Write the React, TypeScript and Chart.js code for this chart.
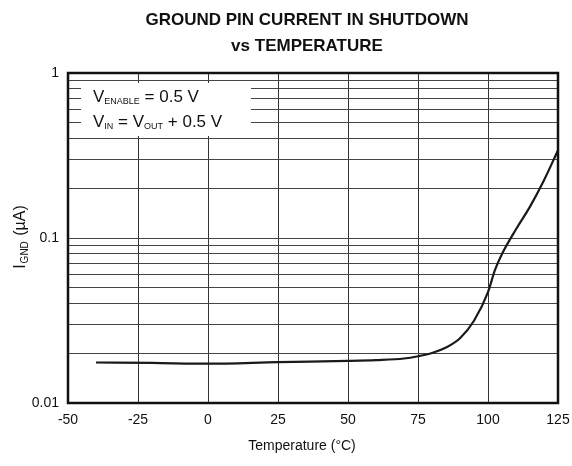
import React, { useEffect, useRef } from "react";
import { Chart, registerables } from "chart.js";

Chart.register(...registerables);

const temperatures = [-40, -20, 0, 25, 50, 60, 70, 75, 80, 85, 90, 95, 100, 102.5, 105, 110, 115, 120, 125];
const groundCurrent = [0.0176, 0.0175, 0.0173, 0.0177, 0.018, 0.0182, 0.0186, 0.0192, 0.0201, 0.0217, 0.0247, 0.0315, 0.047, 0.064, 0.08, 0.113, 0.155, 0.224, 0.34];
const xTicks = [-50, -25, 0, 25, 50, 75, 100, 125];
const yMajorTicks = [0.01, 0.1, 1];
const yMajorLabels = ["0.01", "0.1", "1"];
const titleLines = ["GROUND PIN CURRENT IN SHUTDOWN", "vs TEMPERATURE"];

const FONT = "'Liberation Sans', Arial, sans-serif";

const textPlugin = {
  id: "customText",
  afterDatasetsDraw(chart: any) {
    const ctx = chart.ctx;
    const area = chart.chartArea;
    ctx.save();
    // annotation box
    ctx.fillStyle = "#fff";
    ctx.fillRect(81, 83, 170, 53);
    ctx.fillStyle = "#111";
    ctx.textBaseline = "alphabetic";
    ctx.textAlign = "left";
    const drawSub = (parts: [string, boolean][], x: number, y: number) => {
      let cx = x;
      for (const [t, sub] of parts) {
        ctx.font = sub ? `9px ${FONT}` : `17px ${FONT}`;
        ctx.fillText(t, cx, sub ? y + 2 : y);
        cx += ctx.measureText(t).width;
      }
    };
    drawSub([["V", false], ["ENABLE", true], [" = 0.5 V", false]], 93, 102);
    drawSub([["V", false], ["IN", true], [" = V", false], ["OUT", true], [" + 0.5 V", false]], 93, 127);

    // frame
    ctx.strokeStyle = "#111";
    ctx.lineWidth = 2.5;
    ctx.strokeRect(area.left, area.top, area.right - area.left, area.bottom - area.top);

    // title
    ctx.fillStyle = "#111";
    ctx.textAlign = "center";
    ctx.textBaseline = "middle";
    ctx.font = `bold 17px ${FONT}`;
    ctx.fillText(titleLines[0], 307, 20);
    ctx.fillText(titleLines[1], 307, 46);

    // x title
    ctx.font = `14px ${FONT}`;
    ctx.fillText("Temperature (°C)", 302, 446);

    // y title rotated
    ctx.translate(21, 237);
    ctx.rotate(-Math.PI / 2);
    ctx.textAlign = "left";
    ctx.textBaseline = "middle";
    const parts: [string, boolean][] = [["I", false], ["GND", true], [" (µA)", false]];
    const fontOf = (sub: boolean) => (sub ? `10px ${FONT}` : `16px ${FONT}`);
    let total = 0;
    for (const [t, sub] of parts) {
      ctx.font = fontOf(sub);
      total += ctx.measureText(t).width + (sub ? 2 : 0);
    }
    let cx = -total / 2;
    for (const [t, sub] of parts) {
      ctx.font = fontOf(sub);
      if (sub) cx += 1;
      ctx.fillText(t, cx, sub ? 4 : 0);
      cx += ctx.measureText(t).width + (sub ? 1 : 0);
    }
    ctx.restore();
  },
};

export default function App() {
  const ref = useRef<HTMLCanvasElement>(null);
  useEffect(() => {
    document.body.style.margin = "0";
    const chart = new Chart(ref.current!, {
      type: "line",
      data: {
        datasets: [
          {
            data: temperatures.map((t, i) => ({ x: t, y: groundCurrent[i] })),
            borderColor: "#1a1a1a",
            borderWidth: 2.2,
            pointRadius: 0,
            cubicInterpolationMode: "monotone",
            fill: false,
          },
        ],
      },
      options: {
        animation: false,
        responsive: false,
        maintainAspectRatio: false,
        layout: { padding: { left: 0, right: 14, top: 73, bottom: 0 } },
        plugins: { legend: { display: false }, tooltip: { enabled: false }, title: { display: false } },
        scales: {
          x: {
            type: "linear",
            min: -50,
            max: 125,
            afterBuildTicks: (s: any) => {
              s.ticks = xTicks.map((v) => ({ value: v }));
            },
            afterFit: (s: any) => {
              s.height = 63;
              s.paddingLeft = 0;
              s.paddingRight = 0;
            },
            grid: { color: "#333", lineWidth: 1, drawTicks: false },
            border: { display: false },
            ticks: {
              padding: 9,
              color: "#111",
              font: { family: FONT, size: 14 },
              maxRotation: 0,
              callback: (v: any) => String(v),
            },
          },
          y: {
            type: "logarithmic",
            min: 0.01,
            max: 1,
            afterBuildTicks: (s: any) => {
              const t: any[] = [];
              for (let d = 0; d < 2; d++) {
                const base = yMajorTicks[d];
                for (let k = 1; k <= 9; k++) t.push({ value: base * k });
              }
              t.push({ value: yMajorTicks[2] });
              s.ticks = t;
            },
            afterFit: (s: any) => {
              s.width = 68;
              s.paddingTop = 0;
              s.paddingBottom = 0;
            },
            grid: { color: "#444", lineWidth: 1, drawTicks: false },
            border: { display: false },
            ticks: {
              padding: 9,
              color: "#111",
              font: { family: FONT, size: 14 },
              autoSkip: false,
              callback: (v: any) => {
                const i = yMajorTicks.findIndex((m) => Math.abs(m - v) / m < 1e-6);
                return i >= 0 ? yMajorLabels[i] : "";
              },
            },
          },
        },
      },
      plugins: [textPlugin],
    } as any);
    return () => chart.destroy();
  }, []);
  return (
    <div style={{ position: "absolute", left: 0, top: 0, width: 572, height: 466, background: "#fff" }}>
      <canvas ref={ref} width={572} height={466} style={{ width: 572, height: 466 }} />
    </div>
  );
}
